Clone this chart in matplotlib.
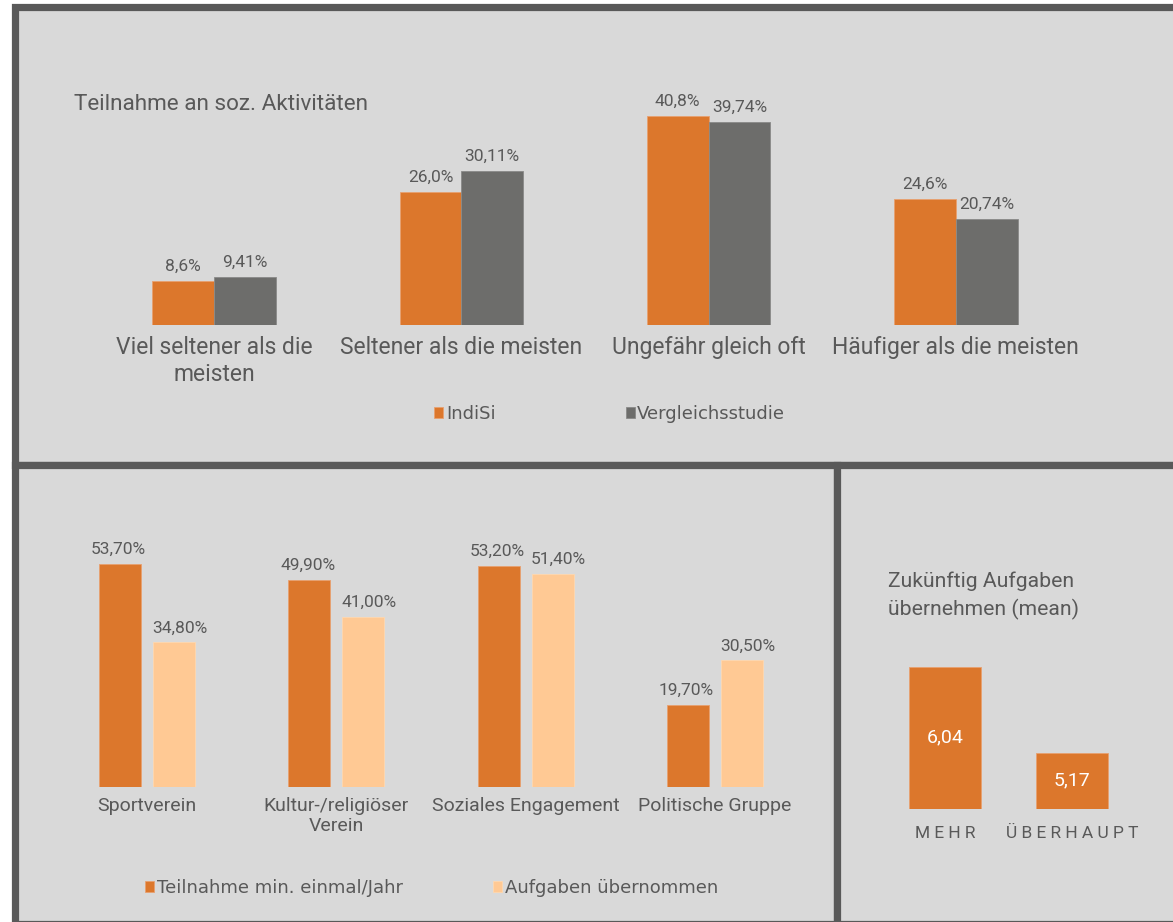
import numpy as np
import matplotlib
matplotlib.use("Agg")
import matplotlib.pyplot as plt
from matplotlib.patches import Rectangle

# Daten
kat_oben = ["Viel seltener als die\nmeisten", "Seltener als die meisten",
            "Ungefähr gleich oft", "Häufiger als die meisten"]
indisi = [8.6, 26.0, 40.8, 24.6]
vergleich = [9.41, 30.11, 39.74, 20.74]

kat_unten = ["Sportverein", "Kultur-/religiöser\nVerein", "Soziales Engagement", "Politische Gruppe"]
teilnahme = [53.7, 49.9, 53.2, 19.7]
aufgaben = [34.8, 41.0, 51.4, 30.5]

kat_mean = ["M E H R", "Ü B E R H A U P T"]
mean_werte = [6.04, 5.17]

ORANGE = "#DC772C"
GRAU = "#6D6D6B"
HELL = "#FFC994"
BG = "#D9D9D9"
RAND = "#595959"
TXT = "#595959"

plt.rcParams['font.family'] = ['Roboto', 'DejaVu Sans']
LEG = ['DejaVu Sans']

W, H = 1173, 922
fig = plt.figure(figsize=(W / 100, H / 100), dpi=100)
fig.patch.set_facecolor("white")


def px_box(x0, y0, x1, y1):
    # Pixelkoordinaten (oben links) -> Figure-Koordinaten
    return [x0 / W, 1 - y1 / H, (x1 - x0) / W, (y1 - y0) / H]


# Panels
for (x0, y0, x1, y1) in [(14.5, 7.5, 1180, 465.5), (14.5, 465.5, 837, 924), (837, 465.5, 1180, 924)]:
    fig.patches.append(Rectangle((x0 / W, 1 - y1 / H), (x1 - x0) / W, (y1 - y0) / H,
                                 transform=fig.transFigure, facecolor=BG,
                                 edgecolor=RAND, linewidth=5.2, zorder=-5))


def fmt(v, d):
    return f"{v:.{d}f}".replace(".", ",") + "%"


def style(ax):
    ax.set_facecolor("none")
    for s in ax.spines.values():
        s.set_visible(False)
    ax.set_yticks([])
    ax.tick_params(axis="x", length=0, colors=TXT)


# ---- oben ----
ax1 = fig.add_axes(px_box(90.5, 325 - 45 * 5.12, 1079.5, 325))
style(ax1)
x = np.arange(len(kat_oben))
bw = 0.25
b1 = ax1.bar(x - bw / 2, indisi, bw, color=ORANGE, edgecolor="#E8A070", linewidth=0.6, label="IndiSi")
b2 = ax1.bar(x + bw / 2, vergleich, bw, color=GRAU, edgecolor="#8A8A88", linewidth=0.6, label="Vergleichsstudie")
ax1.set_ylim(0, 45)
ax1.set_xlim(-0.5, 3.5)
ax1.set_xticks(x)
ax1.set_xticklabels(kat_oben, fontsize=16.5, color=TXT, linespacing=1.2)
ax1.tick_params(axis="x", pad=8)
for b, v in zip(b1, indisi):
    ax1.annotate(fmt(v, 1), (b.get_x() + b.get_width() / 2, v), xytext=(0, 5),
                 textcoords="offset points", ha="center", va="bottom", fontsize=12.5, color=TXT)
for b, v in zip(b2, vergleich):
    ax1.annotate(fmt(v, 2), (b.get_x() + b.get_width() / 2, v), xytext=(0, 5),
                 textcoords="offset points", ha="center", va="bottom", fontsize=12.5, color=TXT)
fig.text(74 / W, 1 - 104 / H, "Teilnahme an soz. Aktivitäten", fontsize=16.2, color=TXT, va="center")
fig.legend(handles=[b1, b2], loc="center left", bbox_to_anchor=(418 / W, 1 - 414 / H),
           ncol=2, frameon=False, prop={'family': LEG, 'size': 13}, labelcolor=TXT,
           handlelength=0.5, handleheight=0.5, handletextpad=0.15, columnspacing=7.2)

# ---- unten links ----
ax2 = fig.add_axes(px_box(52.35, 787 - 60 * 4.153, 809.65, 787))
style(ax2)
x2 = np.arange(len(kat_unten))
bw2 = 0.222
off = 27 / 189.3
c1 = ax2.bar(x2 - off, teilnahme, bw2, color=ORANGE, edgecolor="#E8A070", linewidth=0.6,
             label="Teilnahme min. einmal/Jahr")
c2 = ax2.bar(x2 + off, aufgaben, bw2, color=HELL, edgecolor="#FFD8B0", linewidth=0.6,
             label="Aufgaben übernommen")
ax2.set_ylim(0, 60)
ax2.set_xlim(-0.5, 3.5)
ax2.set_xticks(x2)
ax2.set_xticklabels(kat_unten, fontsize=14, color=TXT, linespacing=1.15)
ax2.tick_params(axis="x", pad=7)
for b, v in zip(c1, teilnahme):
    ax2.annotate(fmt(v, 2), (b.get_x() + b.get_width() / 2, v), xytext=(-1, 5),
                 textcoords="offset points", ha="center", va="bottom", fontsize=12.5, color=TXT)
for b, v in zip(c2, aufgaben):
    ax2.annotate(fmt(v, 2), (b.get_x() + b.get_width() / 2, v), xytext=(4, 5),
                 textcoords="offset points", ha="center", va="bottom", fontsize=12.5, color=TXT)
fig.legend(handles=[c1, c2], loc="center left", bbox_to_anchor=(129 / W, 1 - 888 / H),
           ncol=2, frameon=False, prop={'family': LEG, 'size': 13}, labelcolor=TXT,
           handlelength=0.5, handleheight=0.5, handletextpad=0.15, columnspacing=5.0)

# ---- unten rechts ----
ax3 = fig.add_axes(px_box(881.5, 809 - 1.9 * 98.85, 1135.5, 809))
style(ax3)
x3 = np.arange(len(kat_mean))
d = ax3.bar(x3, mean_werte, 0.567, color=ORANGE, edgecolor="#E8A070", linewidth=0.6)
ax3.set_ylim(4.6, 6.5)
ax3.set_xlim(-0.5, 1.5)
ax3.set_xticks(x3)
ax3.set_xticklabels(kat_mean, fontsize=12.5, color=TXT)
ax3.tick_params(axis="x", pad=12)
for b, v in zip(d, mean_werte):
    ax3.text(b.get_x() + b.get_width() / 2, (4.6 + v) / 2, f"{v:.2f}".replace(".", ","),
             ha="center", va="center", color="white", fontsize=14)
fig.text(888 / W, 1 - 596 / H, "Zukünftig Aufgaben\nübernehmen (mean)", fontsize=15.2,
         color=TXT, va="center", linespacing=1.5)

fig.savefig("out.png", dpi=100, facecolor=fig.get_facecolor())
